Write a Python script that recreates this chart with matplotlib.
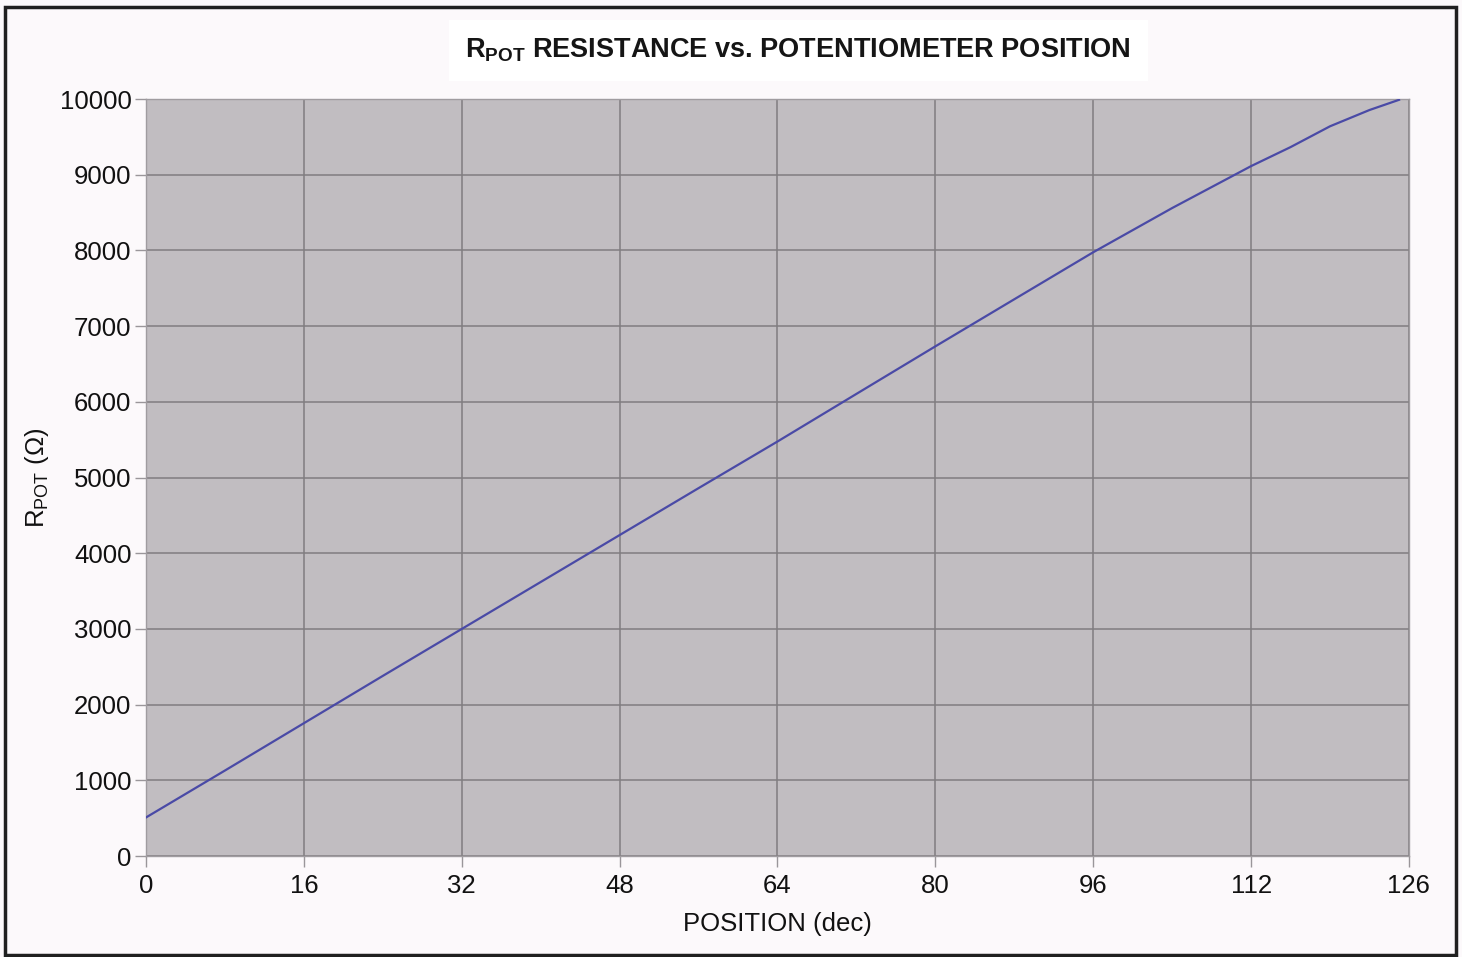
import matplotlib
matplotlib.use("Agg")
import matplotlib.pyplot as plt
from matplotlib.patches import Rectangle

# Data
position = [0, 8, 16, 24, 32, 40, 48, 56, 64, 72, 80, 88, 96, 104, 112, 116, 120, 124, 127]
r_pot = [510, 1130, 1755, 2380, 3000, 3620, 4240, 4860, 5476, 6105, 6733, 7355, 7976,
         8560, 9114, 9365, 9640, 9855, 9990]
x_tick_pos = [0, 16, 32, 48, 64, 80, 96, 112, 128]
x_tick_labels = ["0", "16", "32", "48", "64", "80", "96", "112", "126"]
y_ticks = [0, 1000, 2000, 3000, 4000, 5000, 6000, 7000, 8000, 9000, 10000]

plt.rcParams['font.family'] = ['Liberation Sans', 'DejaVu Sans']
plt.rcParams['mathtext.fontset'] = 'custom'
plt.rcParams['mathtext.rm'] = 'Liberation Sans'
plt.rcParams['mathtext.bf'] = 'Liberation Sans:bold'

fig = plt.figure(figsize=(14.62, 9.57), dpi=100, facecolor='#fcf9fb')
ax = fig.add_axes([0.0999, 0.1055, 0.8638, 0.791])
ax.set_facecolor('#c1bdc1')

ax.plot(position, r_pot, color='#4a4aa6', lw=1.6, zorder=3)

ax.set_xlim(0, 128)
ax.set_ylim(0, 10000)
ax.set_xticks(x_tick_pos)
ax.set_xticklabels(x_tick_labels)
ax.set_yticks(y_ticks)
ax.grid(True, color='#807d80', lw=1.1)
ax.set_axisbelow(True)
for s in ax.spines.values():
    s.set_color('#a09ca0')
    s.set_linewidth(1.0)
ax.tick_params(axis='both', labelsize=18.5, colors='#9a969a', labelcolor='#111111',
               length=8, width=1, direction='out')
ax.tick_params(axis='x', pad=5)
ax.tick_params(axis='y', pad=2.5)

ax.set_xlabel('POSITION (dec)', fontsize=18.5, color='#111111', labelpad=10)
ax.set_ylabel(r'R$_{\mathrm{POT}}$ (Ω)', fontsize=18.5, color='#111111', labelpad=6)

fig.text(0.546, 0.947, r'R$_{\mathbf{POT}}$ RESISTANCE vs. POTENTIOMETER POSITION',
         ha='center', va='center', fontsize=19.5, fontweight='bold', color='#151515',
         bbox=dict(facecolor='white', edgecolor='none', pad=12))

fig.patches.append(Rectangle((0.0035, 0.002), 0.9925, 0.991, transform=fig.transFigure,
                             fill=False, edgecolor='#202020', lw=2.5))

fig.savefig('out.png', dpi=100, facecolor=fig.get_facecolor())
